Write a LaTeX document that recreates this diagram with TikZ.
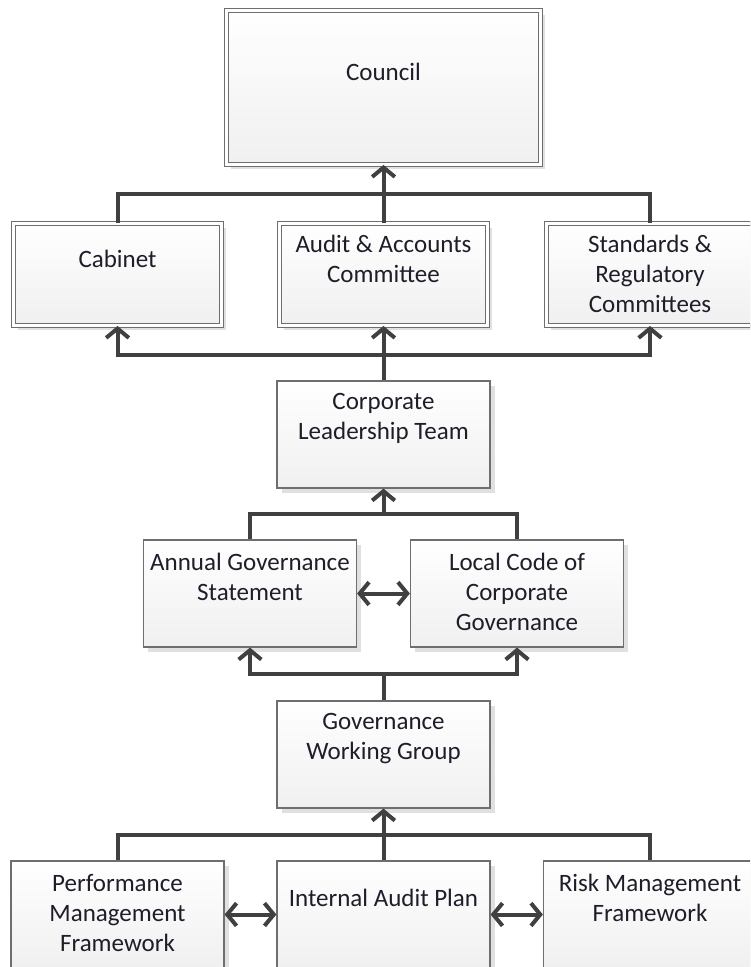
\documentclass[tikz,border=0pt]{standalone}
\usepackage{fontspec}
\setmainfont{Carlito}
\usepackage{tikz}
\usetikzlibrary{arrows.meta, shadows, calc}
\definecolor{linkgray}{HTML}{404040}
\definecolor{boxgray}{HTML}{6E6E6E}
\definecolor{textgray}{HTML}{1E1E2A}

\begin{document}
\begin{tikzpicture}[x=0.75pt, y=-0.75pt,
  >={Straight Barb[length=7pt, width=17pt]},
  box/.style={rectangle, draw=boxgray, line width=0.9pt, top color=white, bottom color=black!6,
    minimum width=159.75pt, minimum height=80.25pt, inner sep=0pt,
    drop shadow={shadow xshift=3.5pt, shadow yshift=-3.5pt, fill=black!12, opacity=1}},
  dbox/.style={box, double=white, double distance=2pt, minimum width=155.75pt, minimum height=76.25pt},
  txt/.style={align=center, text=textgray, font=\fontsize{18.75}{22.5}\selectfont, inner sep=0pt},
  link/.style={draw=linkgray, line width=3pt}]

  \clip (0, 0) rectangle (750, 967);

  % boxes
  \node[dbox, minimum width=235.25pt, minimum height=115.25pt] (council) at (383.5, 87.5) {};
  \node[dbox] (cabinet) at (117.5, 274.5) {};
  \node[dbox] (audit) at (383.5, 274.5) {};
  \node[dbox] (standards) at (650, 274.5) {};
  \node[box] (clt) at (383.5, 434.5) {};
  \node[box] (ags) at (250, 593.5) {};
  \node[box] (local) at (517, 593.5) {};
  \node[box] (gwg) at (383.5, 754.5) {};
  \node[box] (perf) at (117.5, 914.5) {};
  \node[box] (iap) at (383.5, 914.5) {};
  \node[box] (risk) at (650, 914.5) {};

  % texts
  \node[txt] (council-t) at ($(council.north)+(0, 62)$) {Council};
  \node[txt] (cabinet-t) at ($(cabinet.north)+(0, 36)$) {Cabinet};
  \node[txt] (audit-t) at ($(audit.north)+(0, 36)$) {Audit \& Accounts\\Committee};
  \node[txt] (standards-t) at ($(standards.north)+(0, 51)$) {Standards \&\\Regulatory\\Committees};
  \node[txt] (clt-t) at ($(clt.north)+(0, 38)$) {Corporate\\Leadership Team};
  \node[txt] (ags-t) at ($(ags.north)+(0, 38)$) {Annual Governance\\Statement};
  \node[txt] (local-t) at ($(local.north)+(0, 53)$) {Local Code of\\Corporate\\Governance};
  \node[txt] (gwg-t) at ($(gwg.north)+(0, 38)$) {Governance\\Working Group};
  \node[txt] (perf-t) at ($(perf.north)+(0, 53)$) {Performance\\Management\\Framework};
  \node[txt] (iap-t) at ($(iap.north)+(0, 38)$) {Internal Audit Plan};
  \node[txt] (risk-t) at ($(risk.north)+(0, 38)$) {Risk Management\\Framework};

  % connectors
  \coordinate (bus1) at (383.5, 194);
  \draw[link] (cabinet.north) |- (bus1) -| (standards.north);
  \draw[link, ->] (audit.north) -- (council.south);

  \coordinate (bus2) at (383.5, 354.5);
  \draw[link, <->] (cabinet.south) |- (bus2) -| (standards.south);
  \draw[link, ->] (clt.north) -- (audit.south);

  \coordinate (bus3) at (383.5, 514);
  \draw[link] (ags.north) |- (bus3) -| (local.north);
  \draw[link, ->] (bus3) -- (clt.south);
  \draw[link, <->] (ags.east) -- (local.west);

  \coordinate (bus4) at (383.5, 674);
  \draw[link, <->] (ags.south) |- (bus4) -| (local.south);
  \draw[link] (gwg.north) -- (bus4);

  \coordinate (bus5) at (383.5, 834.5);
  \draw[link] (perf.north) |- (bus5) -| (risk.north);
  \draw[link, ->] (iap.north) -- (gwg.south);
  \draw[link, <->] (perf.east) -- (iap.west);
  \draw[link, <->] (iap.east) -- (risk.west);
\end{tikzpicture}
\end{document}
